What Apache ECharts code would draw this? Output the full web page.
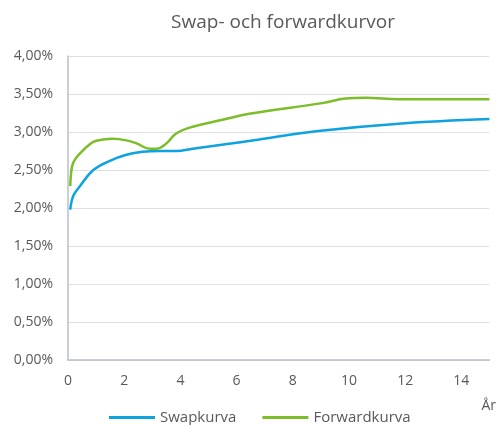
<!DOCTYPE html>
<html>
<head>
<meta charset="utf-8">
<script src="https://cdn.jsdelivr.net/npm/echarts@6/dist/echarts.min.js"></script>
<style>
  html, body { margin: 0; padding: 0; background: #fff; }
  #chart { width: 499px; height: 425px; }
</style>
</head>
<body>
<div id="chart"></div>
<script>
// Swap- och forwardkurvor (år, procent)
const swapX = [0.08, 0.19, 0.43, 0.9, 1.49, 2.08, 2.66, 3.26, 3.85, 4.44, 5.6, 6.8, 8.82, 11.77, 15]
const swapY = [1.98, 2.16, 2.29, 2.50, 2.62, 2.70, 2.74, 2.75, 2.75, 2.78, 2.84, 2.90, 3.01, 3.11, 3.17]

const fwdX = [0.08, 0.14, 0.25, 0.54, 0.9, 1.25, 1.6, 2.08, 2.44, 2.91, 3.15, 3.5, 3.85, 4.44, 5.5, 6.45, 9.05, 9.88, 10.6, 11.77, 15]
const fwdY = [2.29, 2.54, 2.64, 2.76, 2.87, 2.90, 2.91, 2.89, 2.85, 2.78, 2.78, 2.85, 2.98, 3.07, 3.16, 3.24, 3.38, 3.44, 3.45, 3.43, 3.43]

const seriesNames = ['Swapkurva', 'Forwardkurva']
const txt = '#595959'
const font = 'Open Sans'

const pairs = (xs, ys) => xs.map((x, i) => [x, ys[i]])

const chart = echarts.init(document.getElementById('chart'))
chart.setOption({
  animation: false,
  title: {
    text: 'Swap- och forwardkurvor',
    left: 278,
    textAlign: 'center',
    top: 8,
    textStyle: { color: txt, fontSize: 19, fontWeight: 'normal', fontFamily: font }
  },
  legend: {
    data: seriesNames,
    left: 104,
    top: 405,
    icon: 'rect',
    itemWidth: 46,
    itemHeight: 3,
    itemGap: 26,
    textStyle: { color: txt, fontSize: 15, fontFamily: font }
  },
  grid: { left: 68, right: 8, top: 56, bottom: 65 },
  xAxis: {
    type: 'value',
    min: 0,
    max: 15,
    interval: 2,
    name: 'År',
    nameLocation: 'end',
    nameGap: -8,
    nameTextStyle: { color: txt, fontSize: 14, fontFamily: font, align: 'left', verticalAlign: 'top', padding: [39, 0, 0, 0] },
    axisLine: { lineStyle: { color: '#b7bfcc', width: 1.5 } },
    axisTick: { show: false },
    splitLine: { show: false },
    axisLabel: { color: txt, fontSize: 14, fontFamily: font, margin: 14, showMaxLabel: false }
  },
  yAxis: {
    type: 'value',
    min: 0,
    max: 4,
    interval: 0.5,
    axisLine: { show: true, lineStyle: { color: '#b7bfcc', width: 1.5 } },
    axisTick: { show: false },
    splitLine: { lineStyle: { color: '#dde1e6', width: 1.2 } },
    axisLabel: {
      color: txt, fontSize: 14, fontFamily: font, margin: 15,
      formatter: v => v.toFixed(2).replace('.', ',') + '%'
    }
  },
  series: [
    {
      name: seriesNames[0],
      type: 'line',
      data: pairs(swapX, swapY),
      smooth: 0.4,
      showSymbol: false,
      lineStyle: { color: '#0ea2e0', width: 2.5 },
      itemStyle: { color: '#0ea2e0' }
    },
    {
      name: seriesNames[1],
      type: 'line',
      data: pairs(fwdX, fwdY),
      smooth: 0.4,
      showSymbol: false,
      lineStyle: { color: '#7cbd2a', width: 2.5 },
      itemStyle: { color: '#7cbd2a' }
    }
  ]
})
</script>
</body>
</html>
